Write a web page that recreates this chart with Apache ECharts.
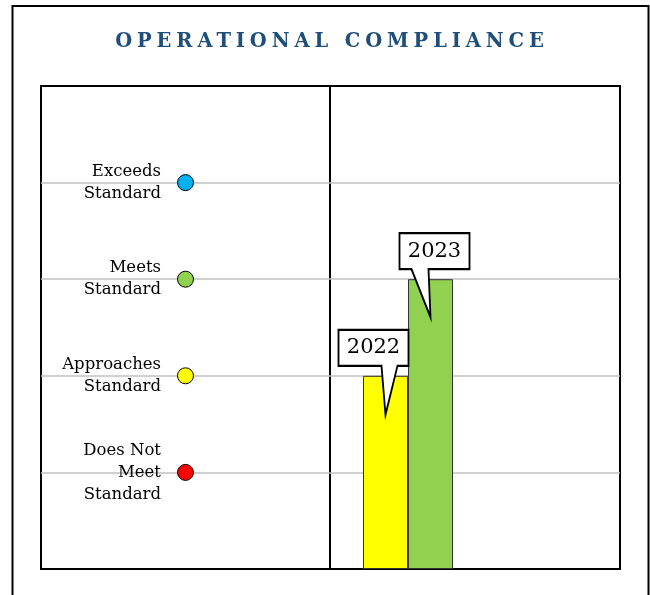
<!DOCTYPE html>
<html>
<head>
<meta charset="utf-8">
<title>Operational Compliance</title>
<script src="https://cdn.jsdelivr.net/npm/echarts@6/dist/echarts.min.js"></script>
<style>
    html, body { margin: 0; padding: 0; background: #fff; }
    .wrap { position: relative; width: 650px; height: 595px; }
    #chart { position: absolute; left: 0; top: 0; width: 650px; height: 595px; }
    .chart-title {
        position: absolute; left: 11px; top: 31px; width: 637px;
        padding-left: 4.9px; box-sizing: border-box;
        text-align: center; line-height: 19px;
        font-family: 'DejaVu Serif'; font-weight: bold; font-size: 19.5px;
        letter-spacing: 4.9px; color: #1f4e79; z-index: 2;
    }
</style>
</head>
<body>
<div class="wrap">
    <div id="chart"></div>
    <div class="chart-title">OPERATIONAL COMPLIANCE</div>
</div>
<script>
    // rating levels (y value -> name)
    const levelValues = [1, 2, 3, 4]
    const levelNames = ['Does Not\nMeet\nStandard', 'Approaches\nStandard', 'Meets\nStandard', 'Exceeds\nStandard']
    const levelColors = ['#ff0000', '#ffff00', '#92d050', '#00b0f0']

    // yearly rating
    const years = ['2022', '2023']
    const yearLevels = [2, 3]
    const yearColors = ['#ffff00', '#92d050']

    const FONT = 'DejaVu Serif'

    // callout shapes: 70x36 box, tail pointing down into the bar
    const calloutLeftTip = 'path://M0 0L70 0L70 36L59 36L47 85L43 36L0 36Z'
    const calloutRightTip = 'path://M0 0L70 0L70 36L29 36L31 84L12 36L0 36Z'
    const callouts = [
        {symbol: calloutLeftTip, size: [70, 85], offset: [-12, -3.5], labelOffset: [0, -24.5]},
        {symbol: calloutRightTip, size: [70, 84], offset: [4, -4], labelOffset: [0, -24]}
    ]

    let myChart = echarts.init(document.getElementById('chart'))

    const levelAxis = {
        type: 'value', min: 0, max: 5, interval: 1,
        axisLine: {show: false},
        axisTick: {show: false},
        splitLine: {
            show: true, showMinLine: false, showMaxLine: false,
            lineStyle: {color: '#c0c0c0', width: 1.5}
        }
    }

    myChart.setOption({
        animation: false,
        textStyle: {fontFamily: FONT},
        graphic: [{
            type: 'rect',
            shape: {x: 12.5, y: 6, width: 636, height: 640},
            style: {fill: 'none', stroke: '#000', lineWidth: 2}
        }],
        grid: [
            // left panel: level names + dots
            {left: 41, top: 86, width: 289, height: 483, show: true, borderColor: '#000', borderWidth: 2},
            // right panel frame
            {left: 330, top: 86, width: 290, height: 483, show: true, borderColor: '#000', borderWidth: 2},
            // bars
            {left: 363, top: 86, width: 90, height: 483}
        ],
        xAxis: [
            {gridIndex: 0, type: 'category', data: ['level'], show: false},
            {gridIndex: 1, type: 'value', show: false},
            {gridIndex: 2, type: 'category', data: years, show: false}
        ],
        yAxis: [
            Object.assign({}, levelAxis, {
                gridIndex: 0,
                axisLabel: {
                    inside: true, align: 'right', margin: 120,
                    fontFamily: FONT, fontSize: 16.5, lineHeight: 22, color: '#000',
                    formatter: function (v) {
                        let i = levelValues.indexOf(v)
                        return i >= 0 ? levelNames[i] : ''
                    }
                }
            }),
            Object.assign({}, levelAxis, {gridIndex: 1, axisLabel: {show: false}}),
            {gridIndex: 2, type: 'value', min: 0, max: 5, show: false}
        ],
        series: [
            {
                type: 'scatter',
                xAxisIndex: 0, yAxisIndex: 0,
                symbolSize: 16,
                data: levelValues.map((v, i) => ({
                    value: ['level', v],
                    itemStyle: {color: levelColors[i], opacity: 1, borderColor: '#000', borderWidth: 1}
                }))
            },
            {
                type: 'bar',
                xAxisIndex: 2, yAxisIndex: 2,
                barWidth: '100%',
                data: yearLevels.map((v, i) => ({
                    value: v,
                    itemStyle: {color: yearColors[i], borderColor: '#333', borderWidth: 1}
                })),
                markPoint: {
                    itemStyle: {color: '#fff', borderColor: '#000', borderWidth: 2},
                    data: years.map((y, i) => ({
                        coord: [y, yearLevels[i]],
                        symbol: callouts[i].symbol,
                        symbolSize: callouts[i].size,
                        symbolOffset: callouts[i].offset,
                        label: {
                            show: true, position: 'inside', offset: callouts[i].labelOffset,
                            formatter: y, color: '#000', fontFamily: FONT, fontSize: 21
                        }
                    }))
                }
            }
        ]
    })
</script>
</body>
</html>
